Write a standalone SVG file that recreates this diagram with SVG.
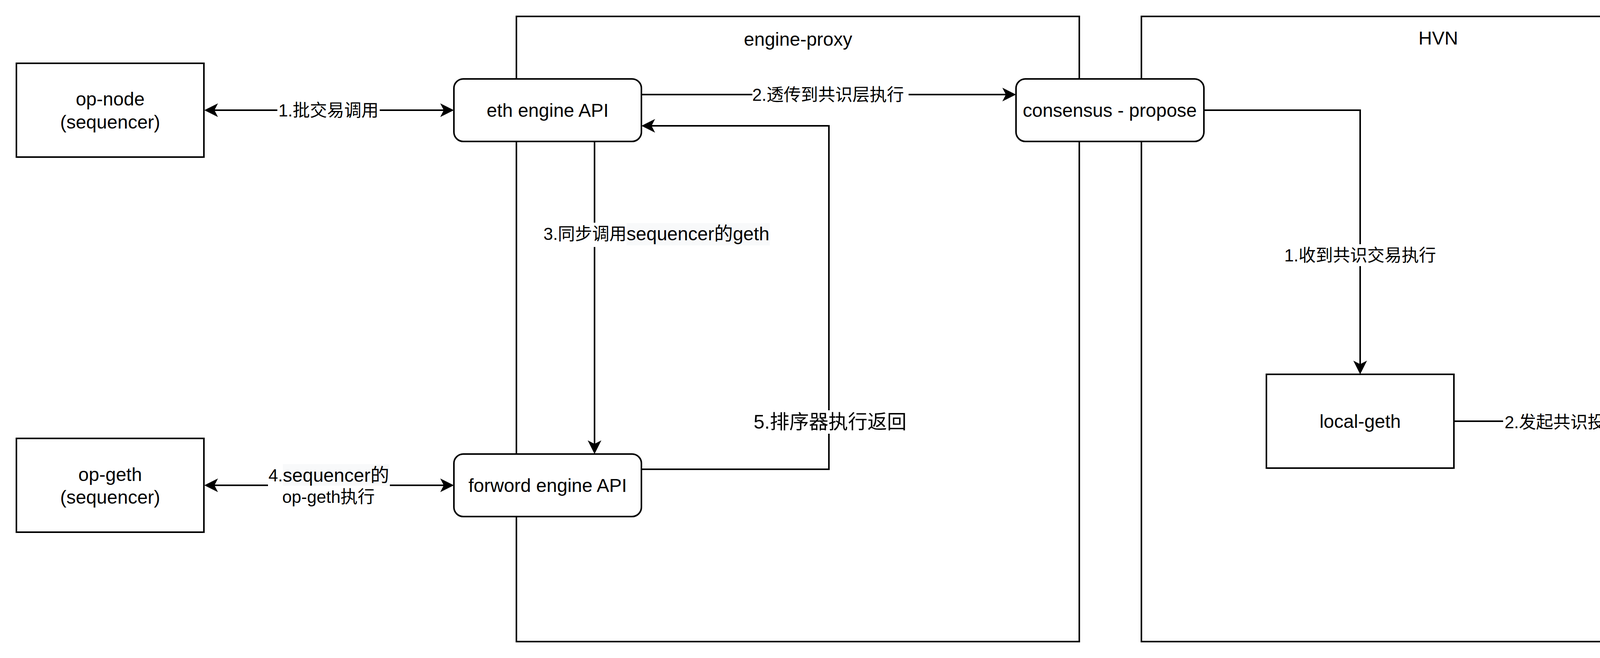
<svg xmlns="http://www.w3.org/2000/svg" width="5764" height="1684" viewBox="0 0 5764 1684">
<style>
  .box{fill:#fff;stroke:#000;stroke-width:4}
  .cont{fill:none;stroke:#000;stroke-width:4}
  .edge{fill:none;stroke:#000;stroke-width:4}
  .t{font-family:"Liberation Sans","Noto Sans CJK SC",sans-serif;fill:#000;dominant-baseline:central}
  .n{font-size:48px;text-anchor:middle}
  .l{font-size:44px;text-anchor:middle}
  .lbg{fill:#fff;stroke:none}
  .hl{fill:#F8F9FA;stroke:none}
</style>
<defs>
  <marker id="arr" markerUnits="userSpaceOnUse" markerWidth="40" markerHeight="40" refX="0" refY="0" orient="auto-start-reverse" overflow="visible">
    <path d="M26,0 L-9,-17.5 L0,0 L-9,17.5 Z" fill="#000" stroke="none"/>
  </marker>
</defs>
<rect width="5764" height="1684" fill="#fff"/>

<g id="engine-proxy">
  <rect class="cont" x="1322" y="42" width="1441" height="1600"/>
  <text class="t n" x="2043" y="100">engine-proxy</text>
</g>
<g id="hvn-container">
  <rect class="cont" x="2922" y="42" width="1520" height="1600"/>
  <text class="t n" x="3682" y="97">HVN</text>
</g>

<g id="op-node">
  <rect class="box" x="42" y="162" width="480" height="240"/>
  <text class="t n" x="282" y="253">op-node</text>
  <text class="t n" x="282" y="312">(sequencer)</text>
</g>
<g id="op-geth">
  <rect class="box" x="42" y="1122" width="480" height="240"/>
  <text class="t n" x="282" y="1214">op-geth</text>
  <text class="t n" x="282" y="1272">(sequencer)</text>
</g>
<g id="eth-engine-api">
  <rect class="box" x="1162" y="202" width="480" height="160" rx="24" ry="24"/>
  <text class="t n" x="1402" y="282">eth engine API</text>
</g>
<g id="forword-engine-api">
  <rect class="box" x="1162" y="1162" width="480" height="160" rx="24" ry="24"/>
  <text class="t n" x="1402" y="1242">forword engine API</text>
</g>
<g id="consensus-propose">
  <rect class="box" x="2601" y="202" width="481" height="160" rx="24" ry="24"/>
  <text class="t n" x="2841" y="282">consensus - propose</text>
</g>
<g id="local-geth">
  <rect class="box" x="3242" y="958" width="480" height="240"/>
  <text class="t n" x="3482" y="1078">local-geth</text>
</g>
<g id="consensus-vote">
  <rect class="box" x="4282" y="1002" width="480" height="160" rx="24" ry="24"/>
  <text class="t n" x="4522" y="1082">consensus - vote</text>
</g>
<g id="hvn">
  <rect class="box" x="5242" y="962" width="480" height="240"/>
  <text class="t n" x="5482" y="1082">HVN</text>
</g>

<g id="connectors">
  <path class="edge" d="M549,282 H1136" marker-start="url(#arr)" marker-end="url(#arr)"/>
  <path class="edge" d="M1642,242 H2575" marker-end="url(#arr)"/>
  <path class="edge" d="M1522,362 V1136" marker-end="url(#arr)"/>
  <path class="edge" d="M549,1242 H1136" marker-start="url(#arr)" marker-end="url(#arr)"/>
  <path class="edge" d="M1642,1201 H2122 V322 H1668" marker-end="url(#arr)"/>
  <path class="edge" d="M3082,282 H3482 V932" marker-end="url(#arr)"/>
  <path class="edge" d="M3722,1078 H4002 V1082 H4256" marker-end="url(#arr)"/>
  <path class="edge" d="M4788,1082 H5216" marker-start="url(#arr)" marker-end="url(#arr)"/>

  <g id="label-1">
    <rect class="lbg" x="710" y="254" width="262" height="56"/>
    <text class="t l" x="841" y="282">1.批交易调用</text>
  </g>
  <g id="label-2">
    <rect class="lbg" x="922" y="214" width="400" height="56" transform="translate(1004,0)"/>
    <text class="t l" x="2120" y="242">2.透传到共识层执行</text>
  </g>
  <g id="label-3">
    <rect class="lbg" x="1390" y="570" width="584" height="62"/>
    <rect class="hl" x="1604" y="571" width="367" height="57"/>
    <text class="t" style="font-size:44px;text-anchor:end" x="1604" y="598">3.同步调用</text>
    <text class="t" style="font-size:48px;text-anchor:start" x="1604" y="598">sequencer的geth</text>
  </g>
  <g id="label-4">
    <rect class="lbg" x="686" y="1188" width="312" height="112"/>
    <rect class="hl" x="724" y="1188" width="272" height="55"/>
    <text class="t" style="font-size:44px;text-anchor:end" x="724" y="1216">4.</text>
    <text class="t" style="font-size:48px;text-anchor:start" x="724" y="1216">sequencer的</text>
    <text class="t l" x="841" y="1271">op-geth执行</text>
  </g>
  <g id="label-5">
    <rect class="lbg" x="1948" y="1050" width="354" height="60"/>
    <text class="t" style="font-size:50px;text-anchor:middle" x="2125" y="1080">5.排序器执行返回</text>
  </g>
  <g id="label-h1">
    <rect class="lbg" x="3284" y="625" width="396" height="56"/>
    <text class="t l" x="3482" y="653">1.收到共识交易执行</text>
  </g>
  <g id="label-h2">
    <rect class="lbg" x="3848" y="1052" width="308" height="56"/>
    <text class="t l" x="4002" y="1080">2.发起共识投票</text>
  </g>
  <g id="label-h3">
    <rect class="lbg" x="4892" y="1054" width="218" height="56"/>
    <text class="t l" x="5001" y="1082">3.投票共识</text>
  </g>
</g>
</svg>
